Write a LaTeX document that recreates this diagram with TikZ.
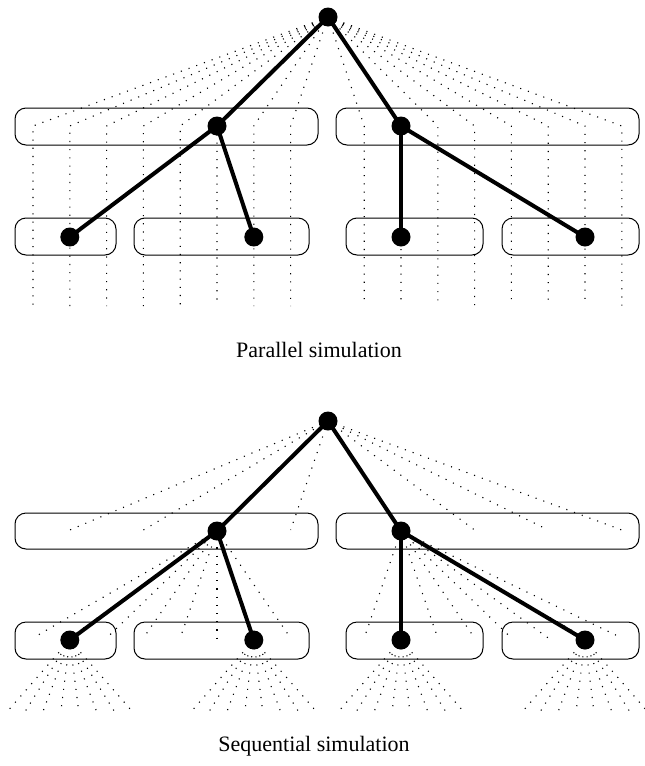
\documentclass[tikz,border=0pt]{standalone}
\usepackage{fontspec}
\setmainfont{Liberation Serif}
\usetikzlibrary{backgrounds,calc}

\tikzset{
  proc/.style={circle, fill=black, inner sep=0pt, minimum size=9.5pt},
  grp/.style={draw, line width=0.5pt, rounded corners=5.5pt},
  spawn/.style={line width=2pt},
  dotline/.style={line width=0.55pt, dash pattern=on 0.55pt off 3.55pt},
  caption/.style={anchor=base, font=\fontsize{11}{13}\selectfont}
}

% column positions of the leaf processes
\pgfmathsetmacro{\cola}{33}
\pgfmathsetmacro{\colw}{36.8}

\begin{document}
\begin{tikzpicture}[x=0.5pt, y=-0.5pt]
\useasboundingbox (0,0) rectangle (644,766);

% ---------------- parallel simulation ----------------
\draw[grp] (15,108) rectangle (318,145);
\draw[grp] (336,108) rectangle (639,145);
\draw[grp] (15,218) rectangle (116,255);
\draw[grp] (134,218) rectangle (309,255);
\draw[grp] (346,218) rectangle (483,255);
\draw[grp] (502,218) rectangle (639,255);

\node[proc] (pr)  at (328,17) {};
\node[proc] (pm1) at ({\cola+5*\colw},126) {};
\node[proc] (pm2) at ({\cola+10*\colw},126) {};
\node[proc] (pb1) at ({\cola+1*\colw},237) {};
\node[proc] (pb2) at ({\cola+6*\colw},237) {};
\node[proc] (pb3) at ({\cola+10*\colw},237) {};
\node[proc] (pb4) at ({\cola+15*\colw},237) {};

\begin{scope}[on background layer]
  \foreach \i in {0,...,7,9,10,...,16} {
    \coordinate (pk\i) at ({\cola+\i*\colw},126);
    \coordinate (pe\i) at ({\cola+\i*\colw},306);
    \draw[dotline] (pr.center) -- (pk\i) -- (pe\i);
  }
  \draw[spawn] (pr.center) -- (pm1.center);
  \draw[spawn] (pr.center) -- (pm2.center);
  \draw[spawn] (pm1.center) -- (pb1.center);
  \draw[spawn] (pm1.center) -- (pb2.center);
  \draw[spawn] (pm2.center) -- (pb3.center);
  \draw[spawn] (pm2.center) -- (pb4.center);
\end{scope}

\node[caption] (pcap) at (319,357) {Parallel simulation};

% ---------------- sequential simulation ----------------
\draw[grp] (15,513) rectangle (318,549);
\draw[grp] (336,513) rectangle (639,549);
\draw[grp] (15,622) rectangle (116,659);
\draw[grp] (134,622) rectangle (309,659);
\draw[grp] (346,622) rectangle (483,659);
\draw[grp] (502,622) rectangle (639,659);

\node[proc] (sr)  at (328,421) {};
\node[proc] (sm1) at ({\cola+5*\colw},531) {};
\node[proc] (sm2) at ({\cola+10*\colw},531) {};
\node[proc] (sb1) at ({\cola+1*\colw},640) {};
\node[proc] (sb2) at ({\cola+6*\colw},640) {};
\node[proc] (sb3) at ({\cola+10*\colw},640) {};
\node[proc] (sb4) at ({\cola+15*\colw},640) {};

\begin{scope}[on background layer]
  % root fan to the middle level
  \foreach \i in {1,3,5,7,10,12,14,16} {
    \coordinate (sk\i) at ({\cola+\i*\colw},530);
    \draw[dotline] (sr.center) -- (sk\i);
  }
  % middle fans to the lower level
  \foreach \i in {0,...,7} {
    \coordinate (sl\i) at ({\cola+\i*\colw},638);
    \draw[dotline] (sm1.center) -- (sl\i);
  }
  \foreach \i in {9,...,16} {
    \coordinate (sl\i) at ({\cola+\i*\colw},638);
    \draw[dotline] (sm2.center) -- (sl\i);
  }
  % leaf fans
  \foreach \n in {1,2,3,4} {
    \foreach \j in {0,...,7} {
      \coordinate (sf\n-\j) at ($(sb\n.center)+({18*(\j-3.5)},72)$);
      \draw[dotline] (sb\n.center) -- (sf\n-\j);
    }
  }
  \draw[spawn] (sr.center) -- (sm1.center);
  \draw[spawn] (sr.center) -- (sm2.center);
  \draw[spawn] (sm1.center) -- (sb1.center);
  \draw[spawn] (sm1.center) -- (sb2.center);
  \draw[spawn] (sm2.center) -- (sb3.center);
  \draw[spawn] (sm2.center) -- (sb4.center);
\end{scope}

\node[caption] (scap) at (314,751) {Sequential simulation};
\end{tikzpicture}
\end{document}
